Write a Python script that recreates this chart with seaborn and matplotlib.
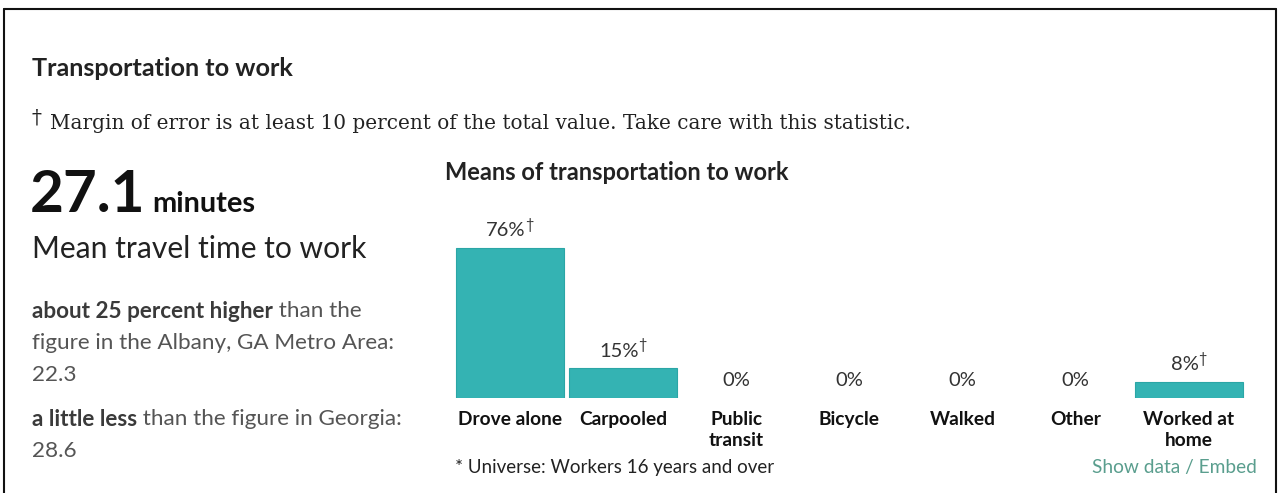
import matplotlib
matplotlib.use("Agg")
import matplotlib.pyplot as plt
import pandas as pd
import seaborn as sns
from matplotlib.lines import Line2D

categories = ["Drove alone", "Carpooled", "Public\ntransit", "Bicycle", "Walked", "Other", "Worked at\nhome"]
shares = [76, 15, 0, 0, 0, 0, 8]
moe_flag = [True, True, False, False, False, False, True]
mean_travel = 27.1
metro_name = "Albany, GA Metro Area"
metro_value = 22.3
state_name = "Georgia"
state_value = 28.6

BAR = "#34b3b3"
W, H = 1278, 493

sns.set_theme(style="white")
plt.rcParams["font.family"] = ["Lato", "DejaVu Sans"]

fig = plt.figure(figsize=(W / 100, H / 100), dpi=100)
renderer = fig.canvas.get_renderer()


def px(x, y):
    return x / W, 1 - y / H


def put(x, y, s, **kw):
    kw.setdefault("va", "center")
    kw.setdefault("ha", "left")
    return fig.text(*px(x, y), s, **kw)


def right_edge(t):
    bb = t.get_window_extent(renderer=renderer)
    return bb.x1


def mixed(x, y, bold, rest, size=16.2):
    t = put(x, y, bold, fontsize=size, fontweight="bold", color="#3a3a3a")
    x1 = right_edge(t)
    put(x1, y, rest, fontsize=size, color="#555555")


# frame of the screenshot
fig.add_artist(Line2D([3.5 / W, 1275.5 / W], [1 - 8.5 / H] * 2, color="#111111", lw=1.5))
fig.add_artist(Line2D([3.5 / W] * 2, [0, 1 - 8.5 / H], color="#111111", lw=1.5))
fig.add_artist(Line2D([1275.5 / W] * 2, [0, 1 - 8.5 / H], color="#111111", lw=1.5))

# left column text
put(32, 69, "Transportation to work", fontsize=18.2, fontweight="bold", color="#222222")
put(31, 118, "\u2020", fontsize=14.5, color="#222222", family="DejaVu Serif")
put(50, 124, "Margin of error is at least 10 percent of the total value. Take care with this statistic.",
    fontsize=14.4, color="#222222", family="DejaVu Serif")

big = put(30, 212, f"{mean_travel}", fontsize=42, fontweight="bold", color="#111111", va="baseline")
put(right_edge(big) + 7, 212, "minutes", fontsize=20.8, fontweight="bold", color="#111111", va="baseline")
put(32, 249, "Mean travel time to work", fontsize=21.6, color="#222222")

mixed(32, 311, "about 25 percent higher", " than the")
put(32, 343, f"figure in the {metro_name}:", fontsize=16.2, color="#555555")
put(32, 375, f"{metro_value}", fontsize=16.2, color="#555555")
mixed(32, 419, "a little less", f" than the figure in {state_name}:")
put(32, 451, f"{state_value}", fontsize=16.2, color="#555555")

# bar chart
put(445, 173, "Means of transportation to work", fontsize=17, fontweight="bold", color="#222222")

left, right, base, top = 453.5, 1245.5, 398, 201
ax = fig.add_axes([left / W, 1 - base / H, (right - left) / W, (base - top) / H])
df = pd.DataFrame({"category": categories, "share": shares})
sns.barplot(data=df, x="category", y="share", color=BAR, width=0.955,
            edgecolor="#2ba6a6", linewidth=0.8, saturation=1, ax=ax)
# zero-height bars show nothing in the original
for patch, v in zip(ax.patches, shares):
    if v == 0:
        patch.set_linewidth(0)
ax.set_ylim(0, 100)
ax.set_xlim(-0.5, len(categories) - 0.5)
ax.set_xlabel("")
ax.set_ylabel("")
ax.set_yticks([])
ax.tick_params(axis="x", length=0, pad=9.5, labelsize=13.8, labelcolor="#111111")
for lab in ax.get_xticklabels():
    lab.set_fontweight("bold")
    lab.set_linespacing(1.3)
for s in ax.spines.values():
    s.set_visible(False)
ax.patch.set_alpha(0)

for i, (v, flag) in enumerate(zip(shares, moe_flag)):
    t = ax.annotate(f"{v}%", (i, v), xytext=(0, 12.5), textcoords="offset points",
                    ha="center", va="center", fontsize=14.5, color="#333333")
    if flag:
        bb = t.get_window_extent(renderer=renderer)
        shift = 4
        t.set_position((-shift * 72 / 100, 12.5))
        ax.annotate("\u2020", (i, v), xytext=((bb.width / 2 - shift - 1) * 72 / 100, 17),
                    textcoords="offset points", ha="left", va="center",
                    fontsize=10.5, color="#333333")

put(455, 467, "* Universe: Workers 16 years and over", fontsize=13.5, color="#222222")
put(1257, 467, "Show data / Embed", fontsize=13.8, color="#5a9e8e", ha="right")

fig.savefig("out.png", dpi=100)
